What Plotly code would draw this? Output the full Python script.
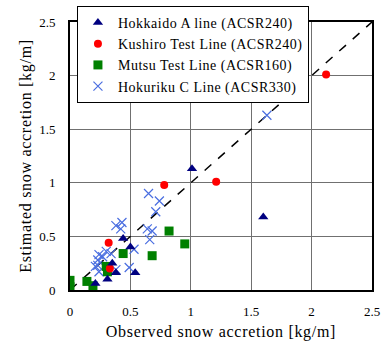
import plotly.graph_objects as go

# Hokkaido A line (ACSR240)
hok_x = [1.60, 1.01, 0.44, 0.50, 0.54, 0.35, 0.38, 0.31, 0.21]
hok_y = [0.68, 1.13, 0.48, 0.40, 0.16, 0.25, 0.16, 0.10, 0.06]
# Kushiro Test Line (ACSR240)
kus_x = [2.12, 1.21, 0.78, 0.32, 0.33]
kus_y = [2.01, 1.01, 0.98, 0.44, 0.20]
# Mutsu Test Line (ACSR160)
mut_x = [0.0, 0.0, 0.14, 0.19, 0.30, 0.31, 0.44, 0.68, 0.82, 0.95]
mut_y = [0.09, 0.03, 0.08, 0.04, 0.22, 0.17, 0.34, 0.32, 0.55, 0.43]
# Hokuriku C Line (ACSR330)
hkr_x = [1.63, 0.65, 0.74, 0.71, 0.64, 0.68, 0.66, 0.38, 0.43, 0.42, 0.53, 0.49,
         0.24, 0.27, 0.23, 0.30, 0.34, 0.21, 0.24, 0.38, 0.23]
hkr_y = [1.63, 0.90, 0.83, 0.73, 0.57, 0.55, 0.47, 0.60, 0.63, 0.57, 0.38, 0.21,
         0.33, 0.31, 0.28, 0.36, 0.34, 0.22, 0.17, 0.19, 0.23]

diag = [0, 2.5]
ticks = [0, 0.5, 1, 1.5, 2, 2.5]
tick_text = ["0", "0.5", "1", "1.5", "2", "2.5"]

SERIF = "Liberation Serif, Times New Roman, serif"


def spaced(t, px):
    return '<span style="letter-spacing:%spx">%s</span>' % (px, t)


fig = go.Figure()
fig.add_trace(go.Scatter(x=diag, y=diag, mode="lines", showlegend=False,
                         line=dict(color="black", width=1.5, dash="dash")))
fig.add_trace(go.Scatter(x=hkr_x, y=hkr_y, mode="markers", name=spaced("Hokuriku C Line (ACSR330)", 0.5),
                         marker=dict(symbol="x-thin-open", size=9, line=dict(color="#4a6ee0", width=1.2),
                                     color="#4a6ee0")))
fig.add_trace(go.Scatter(x=mut_x, y=mut_y, mode="markers", name=spaced("Mutsu Test Line (ACSR160)", 0.5),
                         marker=dict(symbol="square", size=9, color="#008000")))
fig.add_trace(go.Scatter(x=kus_x, y=kus_y, mode="markers", name=spaced("Kushiro Test Line (ACSR240)", 0.5),
                         marker=dict(symbol="circle", size=8, color="#ff0000")))
fig.add_trace(go.Scatter(x=hok_x, y=hok_y, mode="markers", name=spaced("Hokkaido A line (ACSR240)", 0.5),
                         marker=dict(symbol="triangle-up", size=9, color="#000080")))

axis_common = dict(range=[0, 2.5], tickvals=ticks, ticktext=tick_text, showgrid=True,
                   gridcolor="#707070", gridwidth=1, zeroline=False, showline=True,
                   linecolor="black", linewidth=2, mirror=True, ticks="outside",
                   tickcolor="rgba(0,0,0,0)",
                   tickfont=dict(family=SERIF, size=13, color="black"))

fig.update_layout(
    width=392, height=349,
    font=dict(family=SERIF, color="black"),
    margin=dict(l=70, r=20, t=22, b=59, autoexpand=False),
    paper_bgcolor="white", plot_bgcolor="white",
    xaxis=dict(**axis_common, ticklen=8,
               title=dict(text=spaced("Observed snow accretion [kg/m]", 0.7), standoff=8,
                          font=dict(family=SERIF, size=16, color="black"))),
    yaxis=dict(**axis_common, ticklen=10,
               title=dict(text=spaced("Estimated snow accretion [kg/m]", 0.7), standoff=4,
                          font=dict(family=SERIF, size=16, color="black"))),
    legend=dict(x=0.023, y=1.06, xanchor="left", yanchor="top", traceorder="reversed",
                bgcolor="white", bordercolor="black", borderwidth=1,
                font=dict(family=SERIF, size=14, color="black"),
                itemwidth=30, tracegroupgap=0),
)

fig.write_html("out.html")
